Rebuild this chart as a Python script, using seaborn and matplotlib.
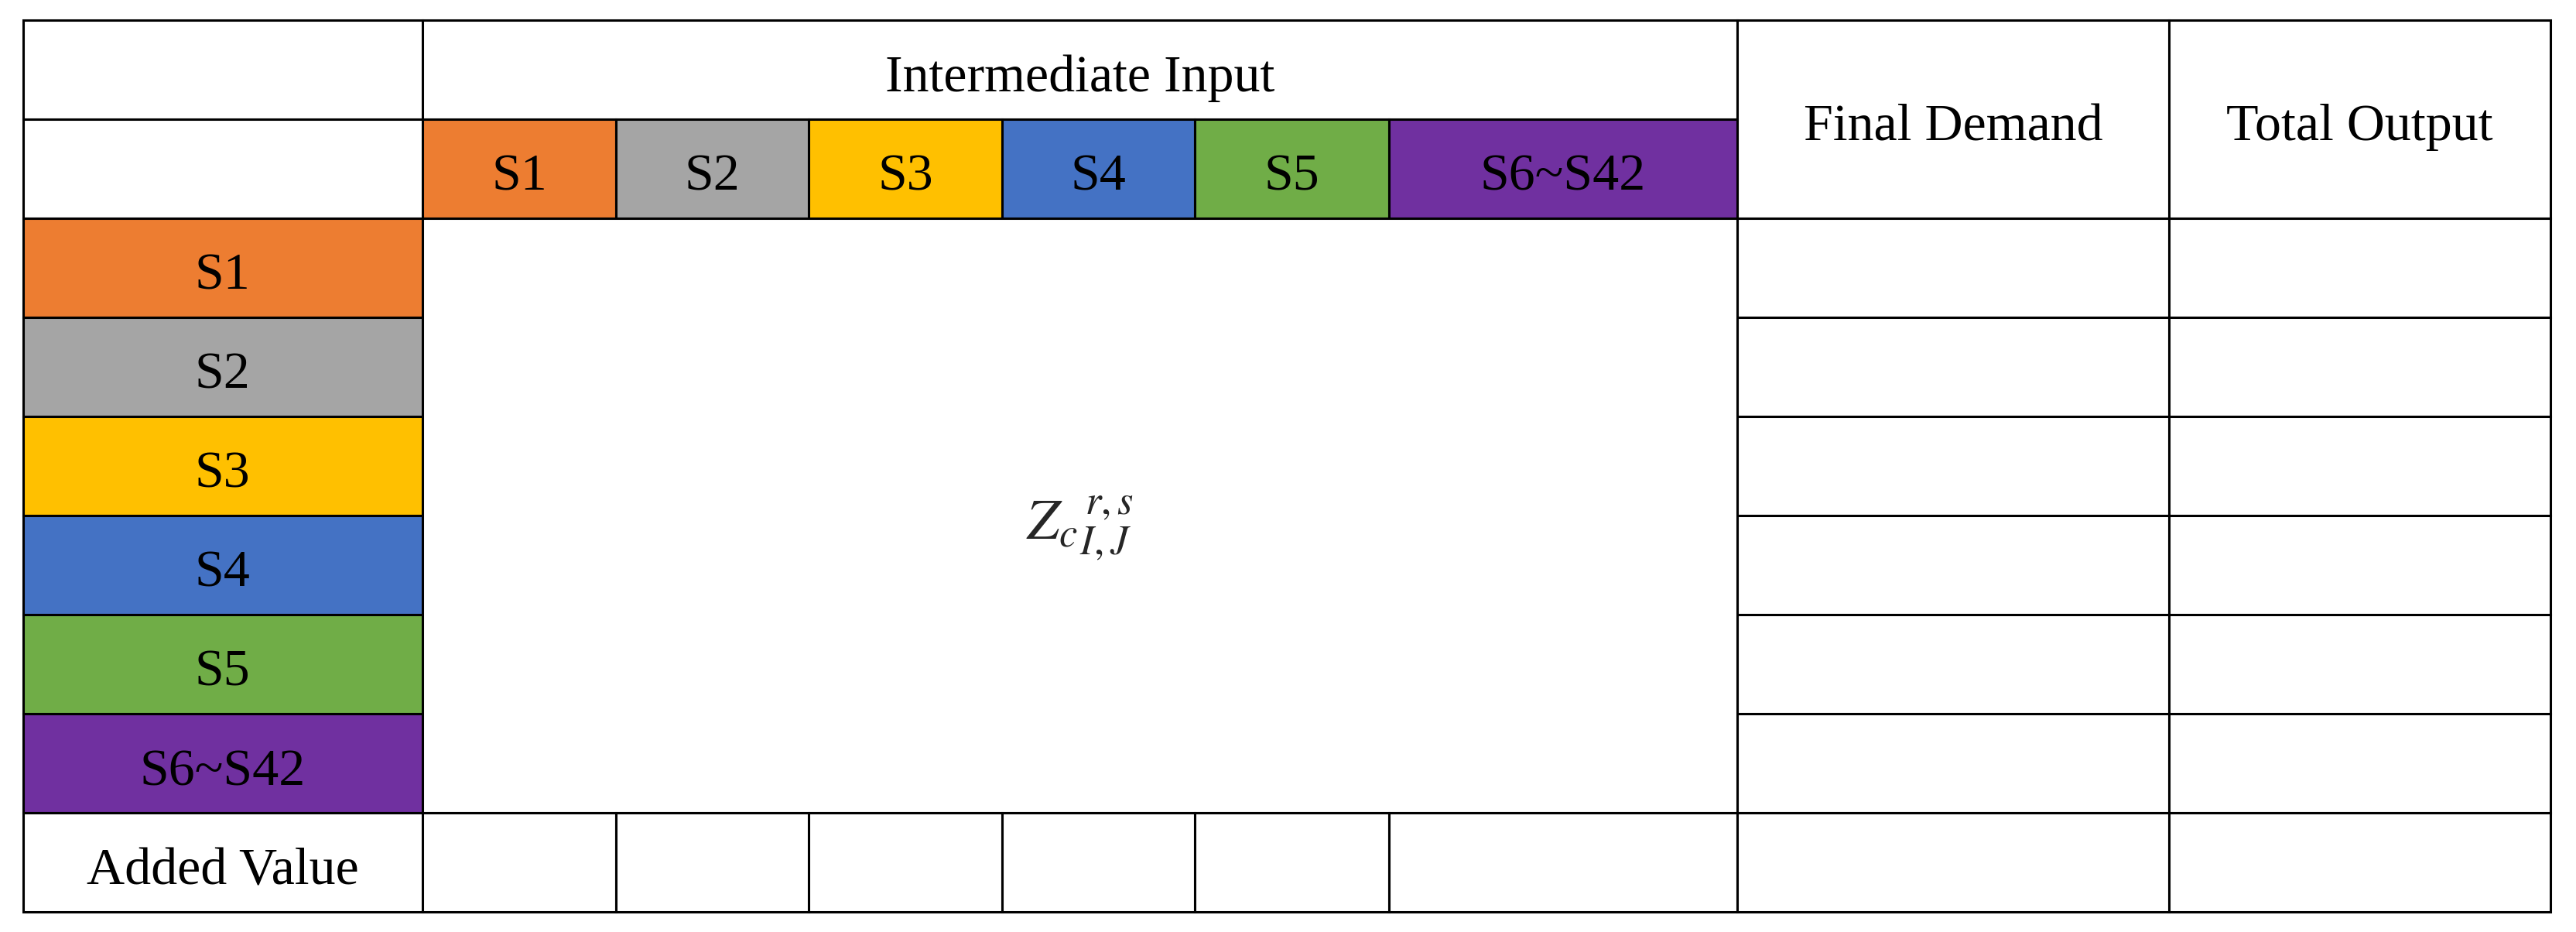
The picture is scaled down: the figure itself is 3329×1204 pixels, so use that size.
import matplotlib
matplotlib.use("Agg")
import matplotlib.pyplot as plt
from matplotlib.patches import Rectangle
import seaborn as sns

sns.set_theme(style="white")
plt.rcParams['font.family'] = ['Liberation Serif', 'DejaVu Serif']
plt.rcParams['mathtext.fontset'] = 'stix'

sectors = ["S1", "S2", "S3", "S4", "S5", "S6~S42"]
sector_colors = ["#ED7D31", "#A5A5A5", "#FFC000", "#4472C4", "#70AD47", "#7030A0"]
header_mid = "Intermediate Input"
header_final = "Final Demand"
header_total = "Total Output"
row_last = "Added Value"

# layout grid (display units)
xs = [14, 257, 375, 492, 610, 727, 845, 1057, 1320, 1552]
ys = [12, 72, 132, 192, 252, 312, 372, 432, 492, 552]

fig = plt.figure(figsize=(33.30, 12.04), dpi=100)
ax = fig.add_axes([0, 0, 1, 1])
ax.set_xlim(0, 1568)
ax.set_ylim(564, 0)
ax.axis("off")
lw = 2.2
fs = 49

def cell(x0, x1, y0, y1, fc="white", text=None, tc="black", size=fs):
    ax.add_patch(Rectangle((x0, y0), x1 - x0, y1 - y0, facecolor=fc, edgecolor="black", lw=lw))
    if text:
        ax.text((x0 + x1) / 2, (y0 + y1) / 2 + 2, text, ha="center", va="center_baseline",
                fontsize=size, color=tc)

# header
cell(xs[0], xs[1], ys[0], ys[1])
cell(xs[0], xs[1], ys[1], ys[2])
cell(xs[1], xs[7], ys[0], ys[1], text=header_mid)
cell(xs[7], xs[8], ys[0], ys[2], text=header_final)
cell(xs[8], xs[9], ys[0], ys[2], text=header_total)
for i, (s, c) in enumerate(zip(sectors, sector_colors)):
    cell(xs[1 + i], xs[2 + i], ys[1], ys[2], fc=c, text=s)
    cell(xs[0], xs[1], ys[2 + i], ys[3 + i], fc=c, text=s)
    cell(xs[7], xs[8], ys[2 + i], ys[3 + i])
    cell(xs[8], xs[9], ys[2 + i], ys[3 + i])
# central block
cell(xs[1], xs[7], ys[2], ys[8])
ax.text((xs[1] + xs[7]) / 2, (ys[2] + ys[8]) / 2 + 8, r"$Z_{c}{}_{I,J}^{\,r,s}$",
        ha="center", va="center", fontsize=54)
# added value row
cell(xs[0], xs[1], ys[8], ys[9], text=row_last)
for i in range(1, 9):
    cell(xs[i], xs[i + 1], ys[8], ys[9])

fig.savefig("out.png", dpi=100, facecolor="white")
